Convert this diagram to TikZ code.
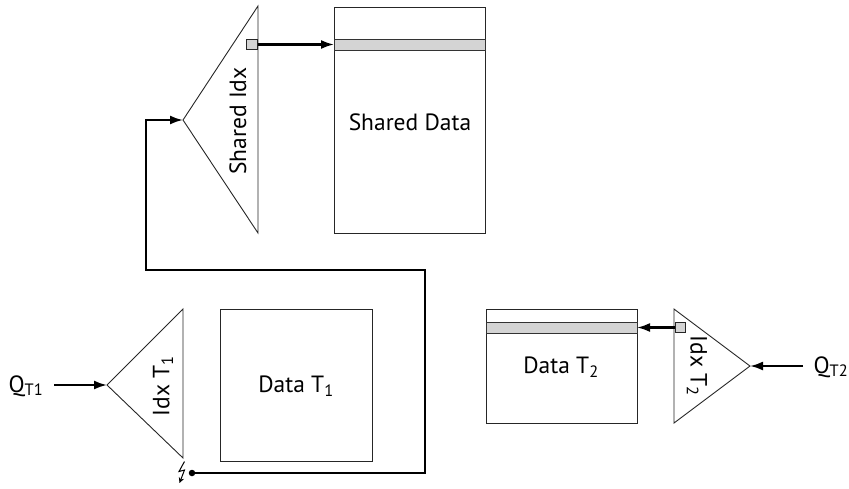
\documentclass[tikz,border=0pt]{standalone}
\usepackage{fontspec}
\setmainfont{PT Sans}
\usetikzlibrary{arrows.meta}
\begin{document}
\begin{tikzpicture}[x=1pt,y=-1pt,
  outline/.style={draw=black!85,line width=0.9pt},
  band/.style={draw=black!80,line width=0.8pt,fill=black!17},
  cell/.style={draw=black!85,line width=1.3pt,fill=black!17,minimum size=10.5pt,inner sep=0pt},
  wire/.style={draw=black,line width=2.1pt},
  tip/.style={-{Latex[length=13pt,width=9pt]}},
  lbl/.style={font=\fontsize{23.5}{28}\selectfont,inner sep=0pt},
  databox/.style={outline,anchor=north west,inner sep=0pt}]
\useasboundingbox (0,0) rectangle (849,488);

% --- shared index and shared data ---
\coordinate (siapex) at (183,120);
\coordinate (sitop) at (258,6);
\coordinate (sibot) at (258,233);
\draw[outline] (siapex) -- (sitop) -- (sibot) -- cycle;
\node[lbl,rotate=90] (silbl) at (238,121) {Shared Idx};

\node[databox,minimum width=151pt,minimum height=226pt] (sd) at (334,7) {};
\node[lbl] (sdlbl) at (410,122) {Shared Data};
\draw[band] (334,39) rectangle (485,50);
\coordinate (sdrow) at (334,44.5);

\node[cell] (sq1) at (252,44.5) {};
\draw[wire,tip] (sq1.east) -- (sdrow);

% --- table T1 ---
\coordinate (t1apex) at (107,385);
\coordinate (t1top) at (183,309);
\coordinate (t1bot) at (183,458);
\draw[outline] (t1apex) -- (t1top) -- (t1bot) -- cycle;
\node[lbl,rotate=90] (t1lbl) at (163,386) {Idx T\textsubscript{1}};

\node[databox,minimum width=152pt,minimum height=152pt] (d1) at (220,309) {};
\node[lbl] (d1lbl) at (296,386) {Data T\textsubscript{1}};

\node[lbl] (q1) at (26,386) {Q\textsubscript{T1}};
\draw[wire,tip] (54,385) -- (t1apex);

% link from T1 index to the shared index
\node[circle,fill=black,inner sep=0pt,minimum size=6.5pt] (dot) at (192,473) {};
\coordinate (c1) at (425,473);
\coordinate (c2) at (425,270);
\coordinate (c3) at (146,270);
\coordinate (c4) at (146,120);
\draw[wire,tip] (dot.center) -- (c1) -- (c2) -- (c3) -- (c4) -- (siapex);

% lightning mark
\draw[black,line width=1pt,-{Stealth[length=5.5pt,width=5.5pt]}]
  (184.5,461.5) -- (179,471.5) -- (184.5,470) -- (179.5,483);

% --- table T2 ---
\node[databox,minimum width=151pt,minimum height=114pt] (d2) at (486,309) {};
\node[lbl] (d2lbl) at (561,367) {Data T\textsubscript{2}};
\draw[band] (486,322) rectangle (637,333);
\coordinate (d2row) at (637,327.5);

\coordinate (t2apex) at (750,366);
\coordinate (t2top) at (674,309);
\coordinate (t2bot) at (674,423);
\draw[outline] (t2apex) -- (t2top) -- (t2bot) -- cycle;
\node[lbl,rotate=-90] (t2lbl) at (697,366) {Idx T\textsubscript{2}};

\node[cell] (sq2) at (680.5,327.5) {};
\draw[wire,tip] (sq2.west) -- (d2row);

\node[lbl] (q2) at (831,367) {Q\textsubscript{T2}};
\draw[wire,tip] (803,366) -- (t2apex);
\end{tikzpicture}
\end{document}
